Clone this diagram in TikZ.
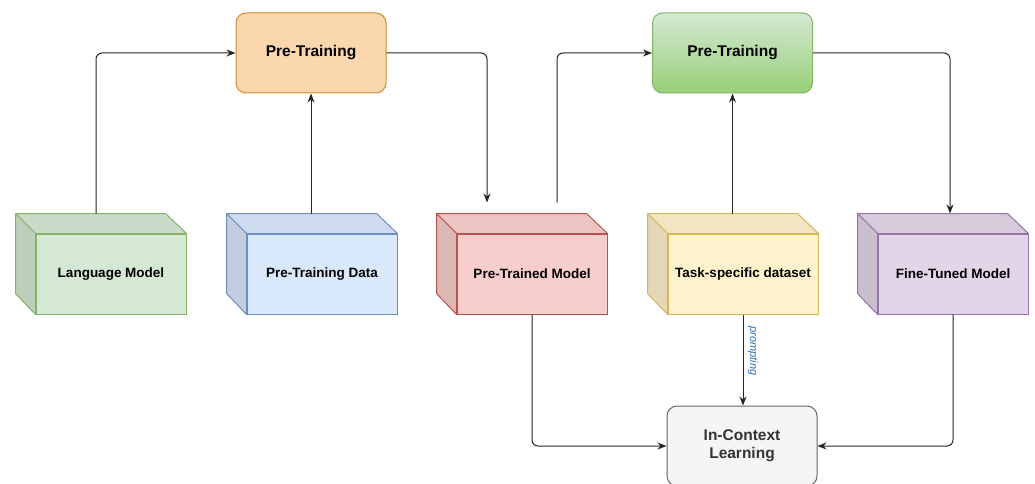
\documentclass[tikz,border=0pt]{standalone}
\usepackage{fontspec}
\setmainfont{Liberation Sans}
\usetikzlibrary{arrows.meta}

\definecolor{lmfill}{HTML}{D5E8D4}\definecolor{lmline}{HTML}{82B366}
\definecolor{ptdfill}{HTML}{DAE8FC}\definecolor{ptdline}{HTML}{6C8EBF}
\definecolor{ptmfill}{HTML}{F8CECC}\definecolor{ptmline}{HTML}{B85450}
\definecolor{tsdfill}{HTML}{FFF2CC}\definecolor{tsdline}{HTML}{D6B656}
\definecolor{ftmfill}{HTML}{E1D5E7}\definecolor{ftmline}{HTML}{9673A6}
\definecolor{orfill}{HTML}{FAD7AC}\definecolor{orline}{HTML}{D08A30}
\definecolor{grtop}{HTML}{D5E8D4}\definecolor{grbot}{HTML}{97D077}
\definecolor{icfill}{HTML}{F5F5F5}\definecolor{icline}{HTML}{666666}
\definecolor{prompt}{HTML}{2F6BB5}

\begin{document}
\begin{tikzpicture}[x=1pt,y=-1pt,
    cube/.style={line width=1pt, minimum width=150pt, minimum height=80pt,
        font=\fontsize{13.5}{16}\selectfont\bfseries},
    stage/.style={rounded corners=10pt, line width=1pt, minimum width=150pt, minimum height=80pt,
        font=\fontsize{15.5}{18}\selectfont\bfseries},
    link/.style={-{Stealth[length=9pt,width=7pt]}, line width=1pt, black!85, rounded corners=6pt}]

    \useasboundingbox (0,0) rectangle (1035,484);

    % models and data (front faces)
    \node[cube, fill=lmfill, draw=lmline] (lm) at (111,274) {Language Model};
    \node[cube, fill=ptdfill, draw=ptdline] (ptd) at (322,274) {Pre-Training Data};
    \node[cube, fill=ptmfill, draw=ptmline] (ptm) at (532,274) {Pre-Trained Model};
    \node[cube, fill=tsdfill, draw=tsdline] (tsd) at (743,274) {Task-specific dataset};
    \node[cube, fill=ftmfill, draw=ftmline] (ftm) at (953,274) {Fine-Tuned Model};

    % top and side faces
    \foreach \n/\c/\l in {lm/lmfill/lmline, ptd/ptdfill/ptdline, ptm/ptmfill/ptmline,
                          tsd/tsdfill/tsdline, ftm/ftmfill/ftmline}{
        \filldraw[fill=\c!95!black, draw=\l, line width=1pt, line join=round]
            (\n.north west) -- ++(-20pt,20pt) -- ++(150pt,0pt) -- (\n.north east) -- cycle;
        \filldraw[fill=\c!89!black, draw=\l, line width=1pt, line join=round]
            (\n.north west) -- ++(-20pt,20pt) -- ++(0pt,-80pt) -- (\n.south west) -- cycle;
    }

    % training stages
    \node[stage, fill=orfill, draw=orline] (pt1) at (311,53) {Pre-Training};
    \node[stage, minimum width=160pt, top color=grtop, bottom color=grbot, draw=lmline] (pt2) at (732.5,53) {Pre-Training};
    \node[stage, fill=icfill, draw=icline, text=black!80, align=center] (icl) at (742,446) {In-Context\\Learning};

    % connectors
    \draw[link] ([xshift=-15pt,yshift=20pt]lm.north) |- (pt1.west);
    \draw[link] ([yshift=20pt]ptd.north -| pt1.south) -- (pt1.south);
    \draw[link] (pt1.east) -| ([xshift=-45pt,yshift=31pt]ptm.north);
    \draw[link] ([xshift=25pt,yshift=31pt]ptm.north) |- (pt2.west);
    \draw[link] ([yshift=20pt]tsd.north -| pt2.south) -- (pt2.south);
    \draw[link] (pt2.east) -| ([xshift=-3pt,yshift=20pt]ftm.north);
    \draw[link] (ptm.south) |- (icl.west);
    \draw[link] (tsd.south) -- node[right=1pt, pos=0.4, rotate=-90, anchor=south, text=prompt,
        font=\fontsize{11}{13}\selectfont\itshape] {prompting} (tsd.south |- icl.north);
    \draw[link] (ftm.south) |- (icl.east);
\end{tikzpicture}
\end{document}
